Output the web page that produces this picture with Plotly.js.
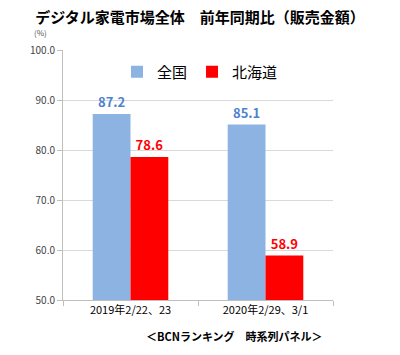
<!DOCTYPE html>
<html><head><meta charset="utf-8">
<script src="https://cdn.plot.ly/plotly-3.0.1.min.js"></script>
<style>body{margin:0;background:#fff}#c{width:400px;height:355px}</style>
</head><body><div id="c"></div>
<script>
const categories = ["2019年2/22、23", "2020年2/29、3/1"];
const seriesNames = ["全国", "北海道"];
const zenkoku = [87.2, 85.1];
const hokkaido = [78.6, 58.9];
const yTicks = [50, 60, 70, 80, 90, 100];
const yTickText = ["50.0", "60.0", "70.0", "80.0", "90.0", "100.0"];

const font = "'Noto Sans CJK JP', 'Noto Sans', sans-serif";
const traces = [
  {type:"bar", name:seriesNames[0], x:categories, y:zenkoku, marker:{color:"#8DB3E2"},
   text:zenkoku.map(v=>v.toFixed(1)), textposition:"outside", cliponaxis:false,
   textfont:{color:"#4F81D0", size:13, family:font, weight:"bold"}},
  {type:"bar", name:seriesNames[1], x:categories, y:hokkaido, marker:{color:"#FF0000"},
   text:hokkaido.map(v=>v.toFixed(1)), textposition:"outside", cliponaxis:false,
   textfont:{color:"#FF0000", size:13, family:font, weight:"bold"}}
];
const layout = {
  width:400, height:355, margin:{l:63, r:67, t:50, b:55},
  paper_bgcolor:"#fff", plot_bgcolor:"#fff",
  font:{family:font, color:"#333"},
  barmode:"group", bargap:0.44, bargroupgap:0,
  showlegend:true,
  legend:{orientation:"h", x:0.2, y:0.912, xanchor:"left", yanchor:"middle",
    font:{size:15, color:"#000", family:font}, itemwidth:30, bgcolor:"rgba(0,0,0,0)"},
  title:{text:"<b>デジタル家電市場全体　前年同期比（販売金額）</b>", x:0.5, xanchor:"center",
    y:0.95, yanchor:"middle", font:{size:15, color:"#000", family:font}},
  xaxis:{type:"category", showline:true, linecolor:"#BFBFBF", linewidth:1,
    ticks:"outside", tickson:"boundaries", ticklen:5, tickcolor:"#BFBFBF",
    tickfont:{size:11, color:"#000", family:font}, showgrid:false},
  yaxis:{range:[50,100], tickvals:yTicks, ticktext:yTickText, showline:true,
    linecolor:"#BFBFBF", ticks:"outside", ticklen:5, tickcolor:"#BFBFBF",
    gridcolor:"#D9D9D9", tickfont:{size:10, color:"#444", family:font}, zeroline:false},
  annotations:[
    {text:"(%)", xref:"paper", yref:"paper", x:-0.085, y:1.068, xanchor:"center", yanchor:"middle",
     showarrow:false, font:{size:8, color:"#555", family:font}},
    {text:"<b>＜BCNランキング　時系列パネル＞</b>", xref:"paper", yref:"paper", x:0.97, y:-0.145,
     xanchor:"right", yanchor:"middle", showarrow:false, font:{size:11, color:"#000", family:font}}
  ]
};
Plotly.newPlot("c", traces, layout, {displayModeBar:false, staticPlot:true});
</script></body></html>
